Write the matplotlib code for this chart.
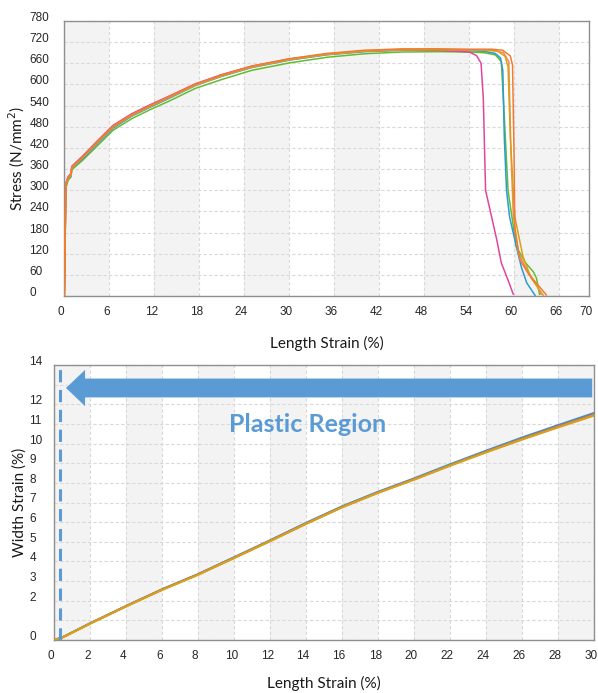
import matplotlib
matplotlib.use("Agg")
import matplotlib.pyplot as plt
import matplotlib.transforms as mtransforms
from matplotlib.patches import FancyArrow

# ---------------- data: top chart (stress vs length strain) ----------------
orange_strain = [0, 0.1, 0.2, 0.5, 0.9, 1.0, 2.5, 4.5, 6.5, 9, 11.5, 14, 17.5, 21, 25, 30, 35, 40, 45, 50, 54,
                 57, 58.5, 59.5, 59.8, 60.0, 60.1, 60.8, 62.0, 63.4, 64.3]
orange_stress = [0, 150, 318, 336, 346, 366, 396, 440, 482, 515, 541, 566, 601, 627, 652, 673, 688, 697, 701, 701, 700,
                 700, 697, 681, 655, 400, 187, 102, 60, 26, 3]

pink_strain = [0, 0.1, 0.2, 0.5, 0.9, 1.0, 2.5, 4.5, 6.5, 9, 11.5, 14, 17.5, 21, 25, 30, 35, 40, 45, 50, 54,
               55, 55.6, 55.9, 56.2, 56.8, 57.7, 58.3, 59.2, 59.9]
pink_stress = [0, 160, 320, 338, 348, 368, 398, 442, 484, 517, 543, 567, 602, 628, 652, 672, 686, 695, 698, 697, 692,
               682, 660, 560, 300, 244, 159, 94, 45, 5]

blue_strain = [0, 0.1, 0.2, 0.5, 0.9, 1.0, 2.5, 4.5, 6.5, 9, 11.5, 14, 17.5, 21, 25, 30, 35, 40, 45, 50, 54,
               56, 57.5, 58.2, 58.5, 58.7, 59.0, 59.4, 60.2, 61.0, 61.7, 62.8]
blue_stress = [0, 140, 312, 332, 342, 362, 390, 434, 476, 510, 536, 561, 597, 623, 648, 669, 684, 693, 697, 697, 696,
               694, 688, 675, 640, 450, 300, 225, 150, 80, 37, 2]

green_strain = [0, 0.1, 0.2, 0.5, 0.9, 1.0, 2.5, 4.5, 6.5, 9, 11.5, 14, 17.5, 21, 25, 30, 35, 40, 45, 50, 54,
                56, 57.5, 58.3, 58.6, 59.2, 60.3, 61.5, 62.6, 63.0, 63.4]
green_stress = [0, 120, 305, 328, 338, 358, 386, 428, 470, 503, 529, 553, 589, 614, 640, 661, 677, 687, 692, 693, 692,
                690, 684, 665, 550, 300, 140, 95, 68, 50, 5]

coral_strain = [0, 0.1, 0.2, 0.5, 0.9, 1.0, 2.5, 4.5, 6.5, 9, 11.5, 14, 17.5, 21, 25, 30, 35, 40, 45, 50, 54,
                57, 58.6, 59.3, 59.6, 59.9, 60.6, 61.8, 62.8, 63.6]
coral_stress = [0, 145, 314, 333, 343, 363, 393, 437, 479, 512, 538, 563, 598, 624, 649, 670, 685, 694, 698, 699, 698,
                697, 690, 665, 400, 230, 120, 70, 40, 5]

gold_strain = [0, 0.1, 0.2, 0.5, 0.9, 1.0, 2.5, 4.5, 6.5, 9, 11.5, 14, 17.5, 21, 25, 30, 35, 40, 45, 50, 54,
               56, 57.8, 58.8, 59.2, 59.5, 60.1, 61.2, 62.3, 63.4, 63.9]
gold_stress = [0, 150, 316, 334, 344, 364, 394, 438, 480, 513, 539, 564, 599, 625, 650, 671, 686, 695, 699, 699, 698,
               697, 695, 680, 650, 450, 225, 111, 50, 17, 2]

top_xticks = [0, 6, 12, 18, 24, 30, 36, 42, 48, 54, 60, 66, 70]
top_yticks = [0, 60, 120, 180, 240, 300, 360, 420, 480, 540, 600, 660, 720, 780]

# ---------------- data: bottom chart (width strain vs length strain) ----------------
len_strain = [0, 0.5, 2, 4, 6, 8, 10, 12, 14, 16, 18, 20, 22, 24, 26, 28, 30]
w_blue = [0, 0.16, 0.86, 1.74, 2.59, 3.36, 4.22, 5.08, 5.97, 6.81, 7.55, 8.23, 8.95, 9.64, 10.31, 10.94, 11.56]
w_pink = [0, 0.15, 0.85, 1.73, 2.58, 3.35, 4.20, 5.06, 5.94, 6.78, 7.52, 8.20, 8.91, 9.60, 10.26, 10.89, 11.50]
w_green = [0, 0.16, 0.85, 1.72, 2.57, 3.34, 4.19, 5.05, 5.93, 6.77, 7.51, 8.18, 8.90, 9.58, 10.24, 10.86, 11.47]
w_orange = [0, 0.15, 0.84, 1.72, 2.56, 3.33, 4.18, 5.04, 5.92, 6.76, 7.50, 8.17, 8.88, 9.56, 10.22, 10.84, 11.45]
w_gold = [0, 0.14, 0.83, 1.71, 2.55, 3.32, 4.17, 5.03, 5.91, 6.75, 7.49, 8.16, 8.87, 9.55, 10.20, 10.82, 11.42]

bot_xticks = list(range(0, 31, 2))
bot_yticks = list(range(0, 15))
bot_ylabels = ['0', '', '2', '3', '4', '5', '6', '7', '8', '9', '10', '11', '12', '', '14']

plastic_limit = 0.32
arrow_y = 12.83

# ---------------- styles ----------------
C_BLUE = '#2b9ad6'
C_ORANGE = '#f07b33'
C_GREEN = '#63bd2e'
C_PINK = '#e2449e'
C_GOLD = '#d6a11c'
C_CORAL = '#ee8c55'
ACCENT = '#5b9bd5'
BAND = '#f3f3f3'
GRID = '#d9d9d9'
SPINE = '#8f8f8f'
TICK_FONT = 'Liberation Sans'
LABEL_FONT = 'Lato'

fig = plt.figure(figsize=(5.98, 6.93), dpi=100)
W, H = 598, 693


def style_axes(ax, xticks, yticks, ylabels, band_width, band_period, xmax, ymax, ypad_px):
    ax.set_xlim(0, xmax)
    ax.set_ylim(0, ymax)
    # alternating background bands
    start = 0
    while start < xmax:
        ax.axvspan(start, min(start + band_width, xmax), color=BAND, lw=0, zorder=0)
        start += band_period
    ax.set_xticks(xticks)
    ax.set_yticks(yticks)
    ax.set_yticklabels(ylabels)
    ax.grid(True, color=GRID, linestyle=(0, (3, 2)), linewidth=0.8, zorder=1)
    ax.set_axisbelow(True)
    for sp in ax.spines.values():
        sp.set_color(SPINE)
        sp.set_linewidth(1.0)
    ax.tick_params(length=0, labelsize=8.5, colors='#262626')
    ax.tick_params(axis='y', pad=ypad_px * 72 / 100)
    ax.tick_params(axis='x', pad=7)
    for lab in ax.get_yticklabels():
        lab.set_fontfamily(TICK_FONT)
        lab.set_horizontalalignment('left')
        lab.set_transform(lab.get_transform() + mtransforms.ScaledTranslation(0, 4.5 / 100, fig.dpi_scale_trans))
    for lab in ax.get_xticklabels():
        lab.set_fontfamily(TICK_FONT)
        lab.set_transform(lab.get_transform() + mtransforms.ScaledTranslation(-3 / 100, 0, fig.dpi_scale_trans))


# ---- top axes ----
ax1 = fig.add_axes([64.3 / W, 1 - 296 / H, (589 - 64.3) / W, (296 - 21) / H])
style_axes(ax1, top_xticks, top_yticks, [str(v) for v in top_yticks], 6, 12, 70, 780, 35)
lw = 1.1
ax1.plot(green_strain, green_stress, color=C_GREEN, lw=lw, zorder=3)
ax1.plot(blue_strain, blue_stress, color=C_BLUE, lw=lw, zorder=3)
ax1.plot(pink_strain, pink_stress, color=C_PINK, lw=lw, zorder=3)
ax1.plot(coral_strain, coral_stress, color=C_CORAL, lw=lw, zorder=3)
ax1.plot(gold_strain, gold_stress, color=C_GOLD, lw=lw, zorder=3)
ax1.plot(orange_strain, orange_stress, color=C_ORANGE, lw=lw, zorder=3)
ax1.set_xlabel('Length Strain (%)', fontsize=11, family=LABEL_FONT, color='#1a1a1a', labelpad=13)
ax1.set_ylabel('Stress (N/mm$^2$)', fontsize=11, family=LABEL_FONT, color='#1a1a1a', labelpad=2)

# ---- bottom axes ----
ax2 = fig.add_axes([54.3 / W, 1 - 640 / H, (594 - 54.3) / W, (640 - 365) / H])
style_axes(ax2, bot_xticks, bot_yticks, bot_ylabels, 2, 4, 30, 14, 25)
lw2 = 1.4
ax2.plot(len_strain, w_blue, color=C_BLUE, lw=lw2, zorder=3)
ax2.plot(len_strain, w_pink, color=C_PINK, lw=lw2, zorder=3)
ax2.plot(len_strain, w_green, color=C_GREEN, lw=lw2, zorder=3)
ax2.plot(len_strain, w_orange, color=C_ORANGE, lw=lw2, zorder=3)
ax2.plot(len_strain, w_gold, color=C_GOLD, lw=lw2, zorder=3)
ax2.axvline(plastic_limit, color=ACCENT, lw=2.2, linestyle=(0, (4, 2.5)), zorder=4)
arrow = FancyArrow(29.9, arrow_y, -(29.9 - 0.65), 0, width=0.96, head_width=1.84, head_length=1.06,
                   length_includes_head=True, color=ACCENT, lw=0, zorder=5)
ax2.add_patch(arrow)
ax2.text(14.1, 10.95, 'Plastic Region', color=ACCENT, fontsize=18, fontweight='bold', family=LABEL_FONT,
         ha='center', va='center', zorder=6)
ax2.set_xlabel('Length Strain (%)', fontsize=11, family=LABEL_FONT, color='#1a1a1a', labelpad=10)
ax2.set_ylabel('Width Strain (%)', fontsize=11, family=LABEL_FONT, color='#1a1a1a', labelpad=2)

fig.savefig('out.png', dpi=100)
